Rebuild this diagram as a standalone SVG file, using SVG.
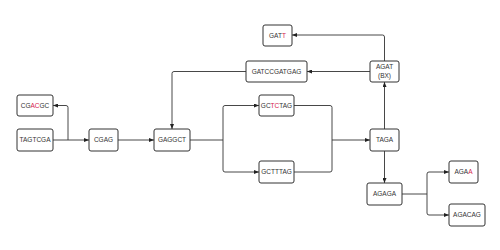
<svg xmlns="http://www.w3.org/2000/svg" width="500" height="250" viewBox="0 0 500 250">
<style>
.box{fill:#fff;stroke:#333;stroke-width:1}
.t{font-family:"Liberation Sans",Arial,sans-serif;font-size:6.5px;fill:#333;text-anchor:middle}
.r{fill:#d6224a}
.c{fill:none;stroke:#333;stroke-width:0.9}
</style>
<defs>
<marker id="arr" viewBox="0 0 5 4" refX="5" refY="2" markerWidth="5" markerHeight="4" markerUnits="userSpaceOnUse" orient="auto">
<path d="M0,0 L5,2 L0,4 z" fill="#222"/>
</marker>
</defs>
<rect width="500" height="250" fill="#fff"/>
<g id="connectors">
<path class="c" d="M53,140 H89" marker-end="url(#arr)"/>
<path class="c" d="M68,140 V107.5 Q68,105.5 66,105.5 H53" marker-end="url(#arr)"/>
<path class="c" d="M118,140 H154" marker-end="url(#arr)"/>
<path class="c" d="M190,140 H223"/>
<path class="c" d="M223,140 V107.5 Q223,105.5 225,105.5 H259" marker-end="url(#arr)"/>
<path class="c" d="M223,140 V170 Q223,172 225,172 H259" marker-end="url(#arr)"/>
<path class="c" d="M294,105.5 H330 Q332,105.5 332,107.5 V170 Q332,172 330,172 H294"/>
<path class="c" d="M332,140 H370" marker-end="url(#arr)"/>
<path class="c" d="M384.5,129 V82" marker-end="url(#arr)"/>
<path class="c" d="M384.5,61 V37 Q384.5,35 382.5,35 H292" marker-end="url(#arr)"/>
<path class="c" d="M370,71.5 H307" marker-end="url(#arr)"/>
<path class="c" d="M246,71.5 H174 Q172,71.5 172,73.5 V129" marker-end="url(#arr)"/>
<path class="c" d="M384.5,151 V183" marker-end="url(#arr)"/>
<path class="c" d="M402,194 H427"/>
<path class="c" d="M427,194 V174 Q427,172 429,172 H449" marker-end="url(#arr)"/>
<path class="c" d="M427,194 V213 Q427,215 429,215 H449" marker-end="url(#arr)"/>
</g>
<g id="n-cgacgc"><rect class="box" x="17" y="95" width="36" height="21" rx="2"/><text class="t" x="35" y="107.8">CG<tspan class="r">AC</tspan>GC</text></g>
<g id="n-tagtcga"><rect class="box" x="17" y="129" width="36" height="22" rx="2"/><text class="t" x="35" y="142.3">TAGTCGA</text></g>
<g id="n-cgag"><rect class="box" x="89" y="129" width="29" height="22" rx="2"/><text class="t" x="103.5" y="142.3">CGAG</text></g>
<g id="n-gaggct"><rect class="box" x="154" y="129" width="36" height="22" rx="2"/><text class="t" x="172" y="142.3">GAGGCT</text></g>
<g id="n-gatt"><rect class="box" x="263" y="25" width="29" height="21" rx="2"/><text class="t" x="277.5" y="37.8">GAT<tspan class="r">T</tspan></text></g>
<g id="n-gatccgatgag"><rect class="box" x="246" y="61" width="61" height="21" rx="2"/><text class="t" x="276.5" y="73.8">GATCCGATGAG</text></g>
<g id="n-agat"><rect class="box" x="370" y="61" width="29" height="21" rx="2"/><text class="t" x="384.5" y="69.3">AGAT</text><text class="t" x="384.5" y="77.8">(BX)</text></g>
<g id="n-gctctag"><rect class="box" x="259" y="95" width="35" height="21" rx="2"/><text class="t" x="276.5" y="107.8">GC<tspan class="r">TC</tspan>TAG</text></g>
<g id="n-gctttag"><rect class="box" x="259" y="161" width="35" height="22" rx="2"/><text class="t" x="276.5" y="174.3">GCTTTAG</text></g>
<g id="n-taga"><rect class="box" x="370" y="129" width="29" height="22" rx="2"/><text class="t" x="384.5" y="142.3">TAGA</text></g>
<g id="n-agaga"><rect class="box" x="367" y="183" width="35" height="22" rx="2"/><text class="t" x="384.5" y="196.3">AGAGA</text></g>
<g id="n-agaa"><rect class="box" x="449" y="161" width="29" height="22" rx="2"/><text class="t" x="463.5" y="174.3">AGA<tspan class="r">A</tspan></text></g>
<g id="n-agacag"><rect class="box" x="449" y="204" width="36" height="22" rx="2"/><text class="t" x="467" y="217.3">AGACAG</text></g>
</svg>
